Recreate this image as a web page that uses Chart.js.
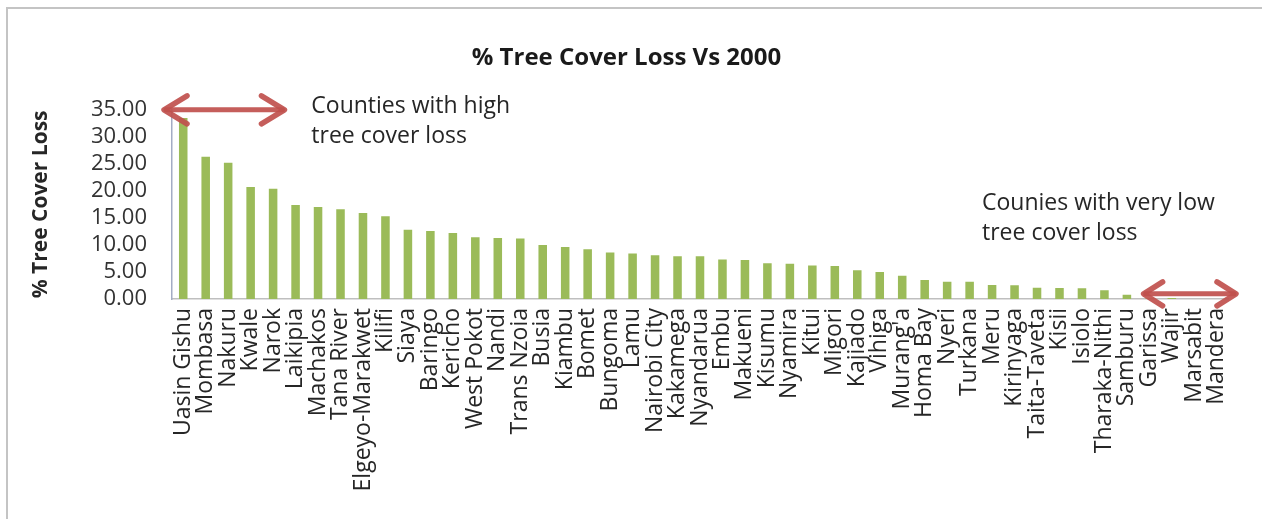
<!DOCTYPE html>
<html>
<head>
<meta charset="utf-8">
<title>% Tree Cover Loss Vs 2000</title>
<script src="https://cdn.jsdelivr.net/npm/chart.js@4.4.1/dist/chart.umd.min.js"></script>
<style>
  html, body { margin: 0; padding: 0; background: #fff; }
  #wrap { position: relative; width: 1262px; height: 519px; }
  #marco { position: absolute; left: 6px; top: 7px; right: 0; bottom: 0;
           border-left: 2px solid #c4c4c4; border-top: 2px solid #c4c4c4; pointer-events: none; }
  canvas { position: absolute; left: 0; top: 0; }
</style>
</head>
<body>
<div id="wrap">
  <canvas id="grafico" width="1262" height="519"></canvas>
  <div id="marco"></div>
</div>
<script>
// condados ordenados por pérdida de cobertura arbórea
const condados = ['Uasin Gishu', 'Mombasa', 'Nakuru', 'Kwale', 'Narok', 'Laikipia', 'Machakos',
  'Tana River', 'Elgeyo-Marakwet', 'Kilifi', 'Siaya', 'Baringo', 'Kericho', 'West Pokot', 'Nandi',
  'Trans Nzoia', 'Busia', 'Kiambu', 'Bomet', 'Bungoma', 'Lamu', 'Nairobi City', 'Kakamega',
  'Nyandarua', 'Embu', 'Makueni', 'Kisumu', 'Nyamira', 'Kitui', 'Migori', 'Kajiado', 'Vihiga',
  "Murang'a", 'Homa Bay', 'Nyeri', 'Turkana', 'Meru', 'Kirinyaga', 'Taita-Taveta', 'Kisii',
  'Isiolo', 'Tharaka-Nithi', 'Samburu', 'Garissa', 'Wajir', 'Marsabit', 'Mandera'];

const perdida = [33.5, 26.3, 25.2, 20.7, 20.4, 17.4, 17.0,
  16.6, 15.9, 15.3, 12.8, 12.6, 12.2, 11.4, 11.3,
  11.2, 10.0, 9.6, 9.2, 8.6, 8.4, 8.1, 7.9,
  7.9, 7.3, 7.2, 6.6, 6.5, 6.2, 6.1, 5.3, 5.0,
  4.3, 3.5, 3.2, 3.2, 2.6, 2.55, 2.1, 2.05,
  2.0, 1.6, 0.8, 0.1, 0.2, 0, 0];

const ticksY = [0, 5, 10, 15, 20, 25, 30, 35];

const notaAlta = ['Counties with high', 'tree cover loss'];
const notaBaja = ['Counies with very low', 'tree cover loss'];

const fuente = "'Open Sans', 'Liberation Sans', sans-serif";
const rojo = 'rgba(192, 80, 77, 0.92)';

// flechas y textos sobre el grafico, ubicados con las escalas
const anotaciones = {
  flechas: [
    { x1: -0.9, x2: 4.55, y: 35, cabeza: 24, ancho: 14 },
    { x1: 42.7, x2: 46.9, y: 0.95, cabeza: 20, ancho: 12 }
  ],
  textos: [
    { lineas: notaAlta, x: 5.7, y: 35.6 },
    { lineas: notaBaja, x: 35.55, y: 17.7 }
  ]
};

const pluginNotas = {
  id: 'notas',
  afterDatasetsDraw(chart) {
    const ctx = chart.ctx;
    const sx = chart.scales.x, sy = chart.scales.y;
    ctx.save();
    anotaciones.flechas.forEach(f => {
      const a = sx.getPixelForValue(f.x1), b = sx.getPixelForValue(f.x2), y = sy.getPixelForValue(f.y);
      ctx.strokeStyle = rojo;
      ctx.lineWidth = 5;
      ctx.lineCap = 'round';
      ctx.lineJoin = 'round';
      ctx.beginPath();
      ctx.moveTo(a + 3, y);
      ctx.lineTo(b - 3, y);
      ctx.stroke();
      ctx.lineWidth = 5.5;
      ctx.beginPath();
      ctx.moveTo(a + f.cabeza, y - f.ancho);
      ctx.lineTo(a + 1, y);
      ctx.lineTo(a + f.cabeza, y + f.ancho);
      ctx.moveTo(b - f.cabeza, y - f.ancho);
      ctx.lineTo(b - 1, y);
      ctx.lineTo(b - f.cabeza, y + f.ancho);
      ctx.stroke();
    });
    ctx.fillStyle = '#262626';
    ctx.font = '23px ' + fuente;
    ctx.textAlign = 'left';
    ctx.textBaseline = 'middle';
    anotaciones.textos.forEach(t => {
      const x = sx.getPixelForValue(t.x), y = sy.getPixelForValue(t.y);
      t.lineas.forEach((l, i) => ctx.fillText(l, x, y + i * 30));
    });
    ctx.restore();
  }
};

const ctx = document.getElementById('grafico').getContext('2d');
new Chart(ctx, {
  type: 'bar',
  data: {
    labels: condados,
    datasets: [{
      label: '% Tree Cover Loss',
      data: perdida,
      backgroundColor: '#9bbb59',
      borderWidth: 0,
      categoryPercentage: 1,
      barPercentage: 0.38
    }]
  },
  options: {
    responsive: false,
    animation: false,
    layout: { padding: { left: 25, right: 34, top: 44, bottom: 0 } },
    plugins: {
      legend: { display: false },
      tooltip: { enabled: false },
      title: {
        display: true,
        text: '% Tree Cover Loss Vs 2000',
        color: '#1a1a1a',
        font: { family: fuente, size: 24, weight: 'bold' },
        padding: { top: 0, bottom: 37 }
      }
    },
    scales: {
      x: {
        grid: { display: false, drawTicks: false },
        border: { color: '#bfbfbf', width: 1.5 },
        afterFit: s => { s.height = 220; },
        ticks: {
          autoSkip: false,
          minRotation: 90,
          maxRotation: 90,
          padding: 9,
          color: '#262626',
          font: { family: fuente, size: 23 }
        }
      },
      y: {
        min: 0,
        max: 35,
        grid: { display: false, drawTicks: false },
        border: { color: '#a3acc4', width: 1.5 },
        afterFit: s => { s.width = 147; },
        afterBuildTicks: s => { s.ticks = ticksY.map(v => ({ value: v })); },
        ticks: {
          autoSkip: false,
          padding: 25,
          color: '#333',
          font: { family: fuente, size: 22 },
          callback: v => v.toFixed(2)
        },
        title: {
          display: true,
          text: '% Tree Cover Loss',
          color: '#262626',
          font: { family: fuente, size: 21, weight: 'bold' },
          padding: { top: 3, bottom: 0 }
        }
      }
    }
  },
  plugins: [pluginNotas]
});
</script>
</body>
</html>
